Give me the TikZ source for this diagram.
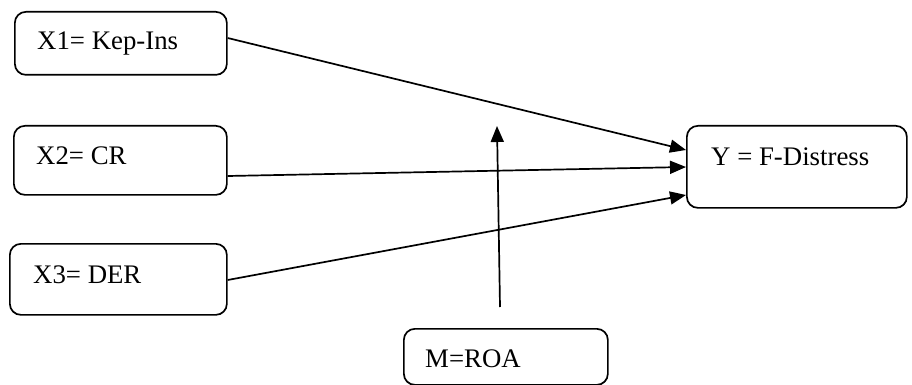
\documentclass[tikz,border=0pt]{standalone}
\usepackage{fontspec}
\setmainfont{Liberation Serif}
\usetikzlibrary{arrows.meta}
\begin{document}
\begin{tikzpicture}[x=1pt,y=1pt,
  box/.style={draw, line width=1.7pt, rounded corners=11pt, inner sep=0pt, anchor=north west},
  lbl/.style={inner sep=0pt, anchor=base west, font=\fontsize{26.8}{32}\selectfont},
  conn/.style={line width=1.7pt, -{Triangle[length=16pt,width=13pt]}}]
\useasboundingbox (0,0) rectangle (912,-385);
% boxes
\node[box, minimum width=212pt, minimum height=63pt] (x1) at (14,-11) {};
\node[box, minimum width=213pt, minimum height=69pt] (x2) at (13,-125) {};
\node[box, minimum width=217pt, minimum height=71pt] (x3) at (9,-243) {};
\node[box, minimum width=220pt, minimum height=82pt] (y) at (686,-125) {};
\node[box, minimum width=204pt, minimum height=56pt] (m) at (403,-328) {};
% labels
\node[lbl] (tx1) at (37,-50) {X1= Kep-Ins};
\node[lbl] (tx2) at (36,-164) {X2= CR};
\node[lbl] (tx3) at (33,-283) {X3= DER};
\node[lbl] (ty) at (711,-165) {Y = F-Distress};
\node[lbl] (tm) at (425,-367) {M=ROA};
% moderator arrow
\coordinate (ms) at (500,-307);
\coordinate (me) at (497,-126);
% connectors
\draw[conn] ([yshift=-27pt]x1.north east) -- ([yshift=-25pt]y.north west);
\draw[conn] ([yshift=-51pt]x2.north east) -- ([yshift=-42pt]y.north west);
\draw[conn] ([yshift=-37pt]x3.north east) -- ([yshift=-70pt]y.north west);
\draw[conn] (ms) -- (me);
\end{tikzpicture}
\end{document}
